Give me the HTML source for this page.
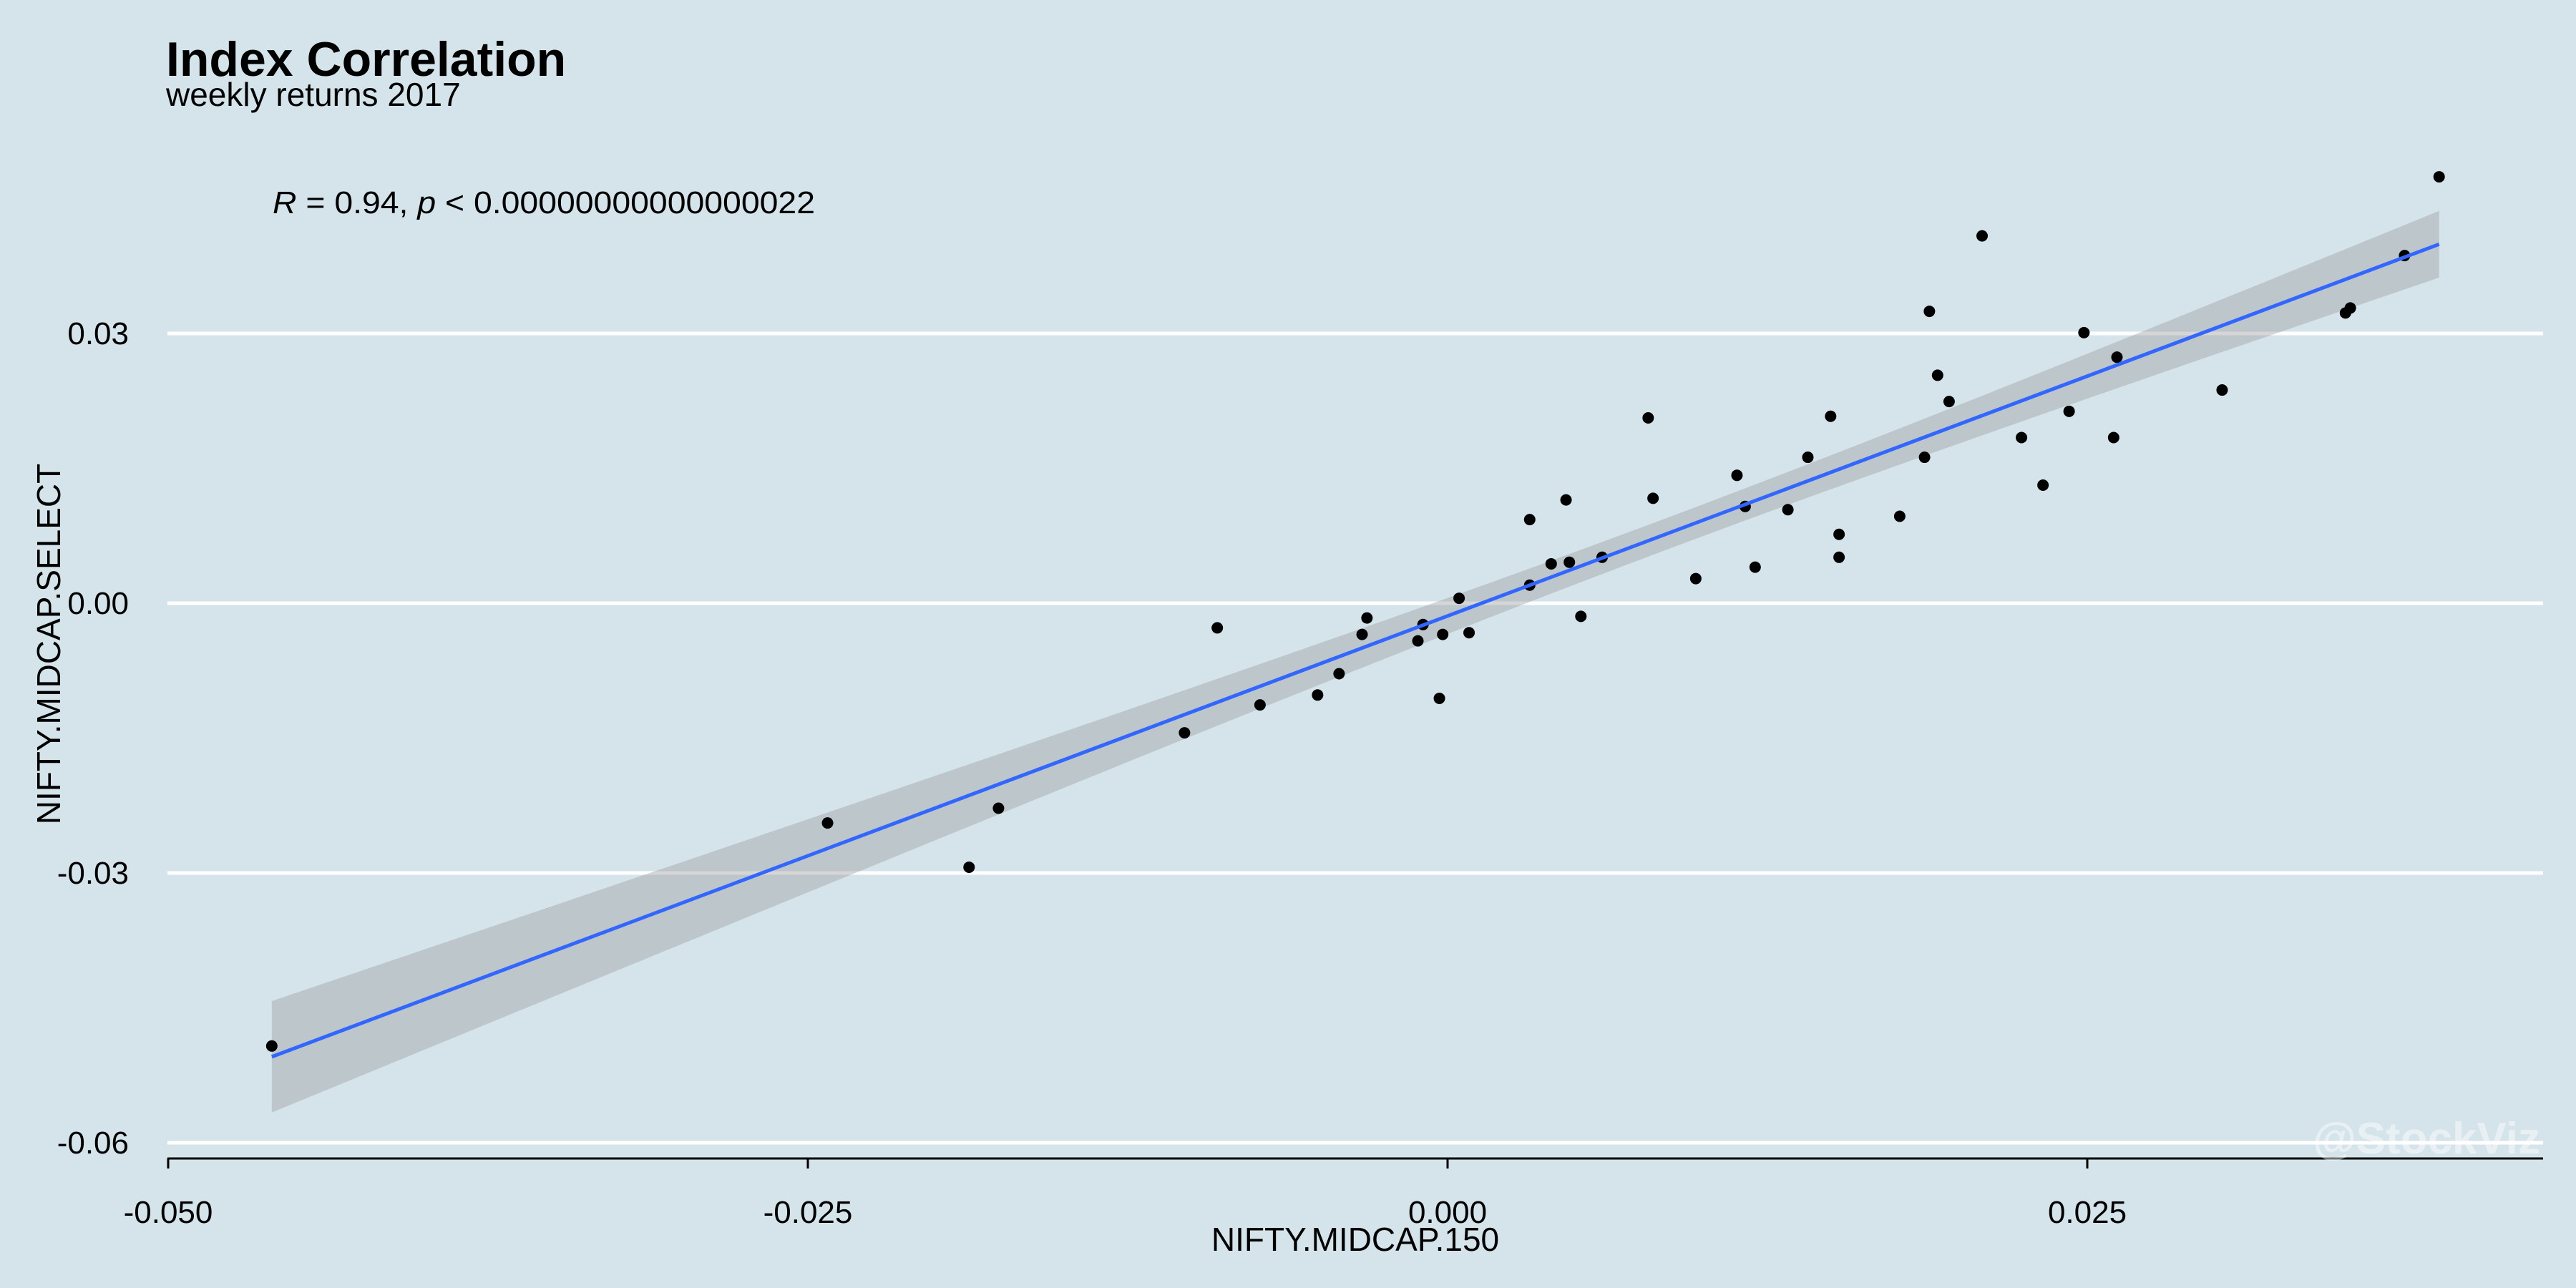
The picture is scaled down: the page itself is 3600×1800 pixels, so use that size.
<!DOCTYPE html>
<html><head><meta charset="utf-8">
<style>
html,body{margin:0;padding:0;background:#d5e4eb;}
svg{display:block;font-family:"Liberation Sans",Arial,sans-serif;}
</style></head>
<body>
<svg id="chart" width="3600" height="1800" viewBox="0 0 3600 1800" xmlns="http://www.w3.org/2000/svg">
<rect x="0" y="0" width="3600" height="1800" fill="#d5e4eb"/>
<text x="232" y="106" font-size="68" font-weight="bold" fill="#000">Index Correlation</text>
<text x="232" y="148" font-size="46" fill="#000">weekly returns 2017</text>
<text x="381" y="298" font-size="44" textLength="758" lengthAdjust="spacingAndGlyphs" fill="#000"><tspan font-style="italic">R</tspan> = 0.94, <tspan font-style="italic">p</tspan> &lt; 0.00000000000000022</text>
<g id="grid"></g>
<g id="band"></g>
<g id="points"></g>
<g id="fit"></g>
<g id="axes"></g>
<text x="1894" y="1748" font-size="46" text-anchor="middle" fill="#000">NIFTY.MIDCAP.150</text>
<text transform="translate(84,900) rotate(-90)" font-size="46" text-anchor="middle" fill="#000">NIFTY.MIDCAP.SELECT</text>
<text x="3550" y="1612" font-size="62" font-weight="bold" text-anchor="end" fill="#ffffff" fill-opacity="0.45">@StockViz</text>
</svg>
<script>
const xVals=[-0.04595,-0.02423,-0.01870,-0.01755,-0.01028,-0.00900,-0.00733,-0.00508,-0.00424,-0.00334,-0.00315,-0.00116,-0.00096,-0.00032,-0.00019,0.00045,0.00084,0.00321,0.00321,0.00405,0.00463,0.00476,0.00521,0.00604,0.00784,0.00803,0.00970,0.01131,0.01163,0.01202,0.01330,0.01408,0.01497,0.01530,0.01530,0.01767,0.01864,0.01883,0.01915,0.01960,0.02089,0.02243,0.02327,0.02429,0.02487,0.02603,0.02616,0.03027,0.03509,0.03528,0.03740,0.03875];
const yVals=[-0.04924,-0.02444,-0.02936,-0.02280,-0.01441,-0.00274,-0.01131,-0.01021,-0.00784,-0.00347,-0.00164,-0.00419,-0.00237,-0.01058,-0.00347,0.00055,-0.00328,0.00201,0.00930,0.00438,0.01149,0.00456,-0.00146,0.00511,0.02061,0.01167,0.00274,0.01422,0.01076,0.00401,0.01040,0.01623,0.02079,0.00766,0.00511,0.00967,0.01623,0.03246,0.02535,0.02243,0.04085,0.01842,0.01313,0.02134,0.03009,0.01842,0.02736,0.02371,0.03228,0.03283,0.03866,0.04742];
const xTicks=[-0.05,-0.025,0,0.025];
const xTickLabels=["-0.050","-0.025","0.000","0.025"];
const yTicks=[0.03,0,-0.03,-0.06];
const yTickLabels=["0.03","0.00","-0.03","-0.06"];

const NS="http://www.w3.org/2000/svg";
const sx=v=>2023+(v/0.025)*894;
const sy=v=>843-(v/0.03)*377;
function mk(tag,attrs,parent){const e=document.createElementNS(NS,tag);for(const k in attrs)e.setAttribute(k,attrs[k]);parent.appendChild(e);return e;}
const grid=document.getElementById('grid'),axes=document.getElementById('axes');
const L=234,R=3554,axisY=1619;
yTicks.forEach((t,i)=>{
  const l=mk('line',{x1:L,x2:R,y1:sy(t),y2:sy(t),stroke:'#ffffff','stroke-width':5},grid);
  
  
  const tx=mk('text',{x:180,y:sy(t)+15,'font-size':44,'text-anchor':'end',fill:'#000'},axes);
  tx.textContent=yTickLabels[i];
  
  
});
const ax=mk('line',{x1:L,x2:R,y1:axisY,y2:axisY,stroke:'#000','stroke-width':3},axes);


xTicks.forEach((t,i)=>{
  const tk=mk('line',{x1:sx(t),x2:sx(t),y1:axisY,y2:axisY+14,stroke:'#000','stroke-width':3},axes);
  
  
  const tx=mk('text',{x:sx(t),y:1709,'font-size':44,'text-anchor':'middle',fill:'#000'},axes);
  tx.textContent=xTickLabels[i];
  
  
});
const n=xVals.length;
const mx=xVals.reduce((a,b)=>a+b)/n,my=yVals.reduce((a,b)=>a+b)/n;
let sxx=0,sxy=0;for(let i=0;i<n;i++){sxx+=(xVals[i]-mx)**2;sxy+=(xVals[i]-mx)*(yVals[i]-my);}
const b=sxy/sxx,a=my-b*mx;
let sse=0;for(let i=0;i<n;i++)sse+=(yVals[i]-a-b*xVals[i])**2;
const s=Math.sqrt(sse/(n-2)),tcrit=2.009;
const x0=Math.min(...xVals),x1=Math.max(...xVals);
const up=[],lo=[];
for(let k=0;k<=80;k++){const x=x0+(x1-x0)*k/80;const y=a+b*x;const se=s*Math.sqrt(1/n+(x-mx)**2/sxx);up.push(sx(x)+','+sy(y+tcrit*se));lo.unshift(sx(x)+','+sy(y-tcrit*se));}
const band=mk('polygon',{points:up.concat(lo).join(' '),fill:'#999999','fill-opacity':0.4},document.getElementById('band'));


const pts=document.getElementById('points');
for(let i=0;i<n;i++){
  const c=mk('circle',{cx:sx(xVals[i]),cy:sy(yVals[i]),r:8,fill:'#000'},pts);
  
  
}
const fl=mk('line',{x1:sx(x0),y1:sy(a+b*x0),x2:sx(x1),y2:sy(a+b*x1),stroke:'#3366ff','stroke-width':5},document.getElementById('fit'));


</script>
</body></html>
